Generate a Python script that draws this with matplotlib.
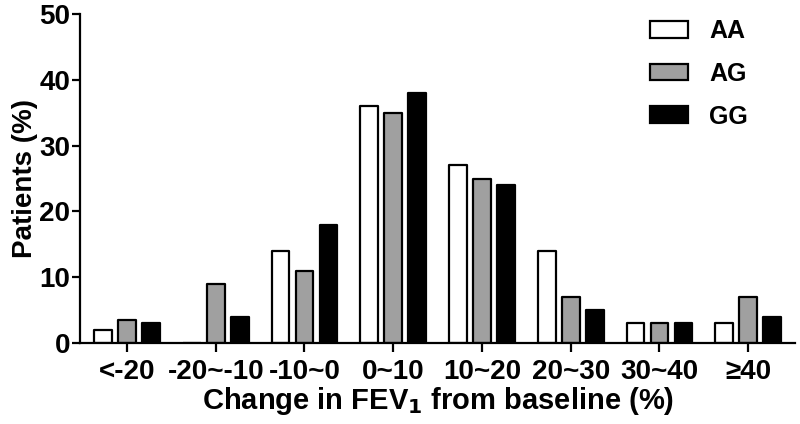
import matplotlib
matplotlib.use("Agg")
import matplotlib.pyplot as plt
import numpy as np

categories = ["<-20", "-20~-10", "-10~0", "0~10", "10~20", "20~30", "30~40", "≥40"]
AA = [2, 0, 14, 36, 27, 14, 3, 3]
AG = [3.5, 9, 11, 35, 25, 7, 3, 7]
GG = [3, 4, 18, 38, 24, 5, 3, 4]
series = [("AA", AA, "white"), ("AG", AG, "#a0a0a0"), ("GG", GG, "black")]

plt.rcParams['font.family'] = ['Liberation Sans', 'DejaVu Sans']
plt.rcParams['font.weight'] = 'bold'

fig = plt.figure(figsize=(8, 4.24), dpi=100)
ax = fig.add_axes([0.1, 0.191, 0.894, 0.776])

x = np.arange(len(categories))
offs = [-0.27, 0, 0.27]
for (name, vals, col), o in zip(series, offs):
    ax.bar(x + o, vals, width=0.2, color=col, edgecolor="black", linewidth=1.6,
           joinstyle="round", label=name)

ax.set_xlim(-0.53, 7.53)
ax.set_ylim(0, 50)
ax.set_yticks([0, 10, 20, 30, 40, 50])
ax.set_xticks(x)
ax.set_xticklabels(categories)
for s in ["top", "right"]:
    ax.spines[s].set_visible(False)
for s in ["left", "bottom"]:
    ax.spines[s].set_linewidth(1.6)
ax.tick_params(axis="x", width=1.6, length=6.5, labelsize=20, pad=5)
ax.tick_params(axis="y", width=1.6, length=5.5, labelsize=20, pad=1.5)
for lab in ax.get_xticklabels() + ax.get_yticklabels():
    lab.set_fontweight("bold")

ax.set_ylabel("Patients (%)", fontsize=20, fontweight="bold", labelpad=1)
ax.set_xlabel("Change in FEV$_\\mathbf{1}$ from baseline (%)", fontsize=21, fontweight="bold", labelpad=0)

leg = ax.legend(loc="upper left", bbox_to_anchor=(650 / 800, 1 - 19 / 424),
                bbox_transform=fig.transFigure, frameon=False,
                handlelength=1.52, handleheight=0.65, labelspacing=0.75,
                handletextpad=0.85, borderpad=0, borderaxespad=0,
                prop={"weight": "bold", "size": 18})
for p in leg.get_patches():
    p.set_linewidth(1.6)

fig.savefig("out.png", dpi=100)
